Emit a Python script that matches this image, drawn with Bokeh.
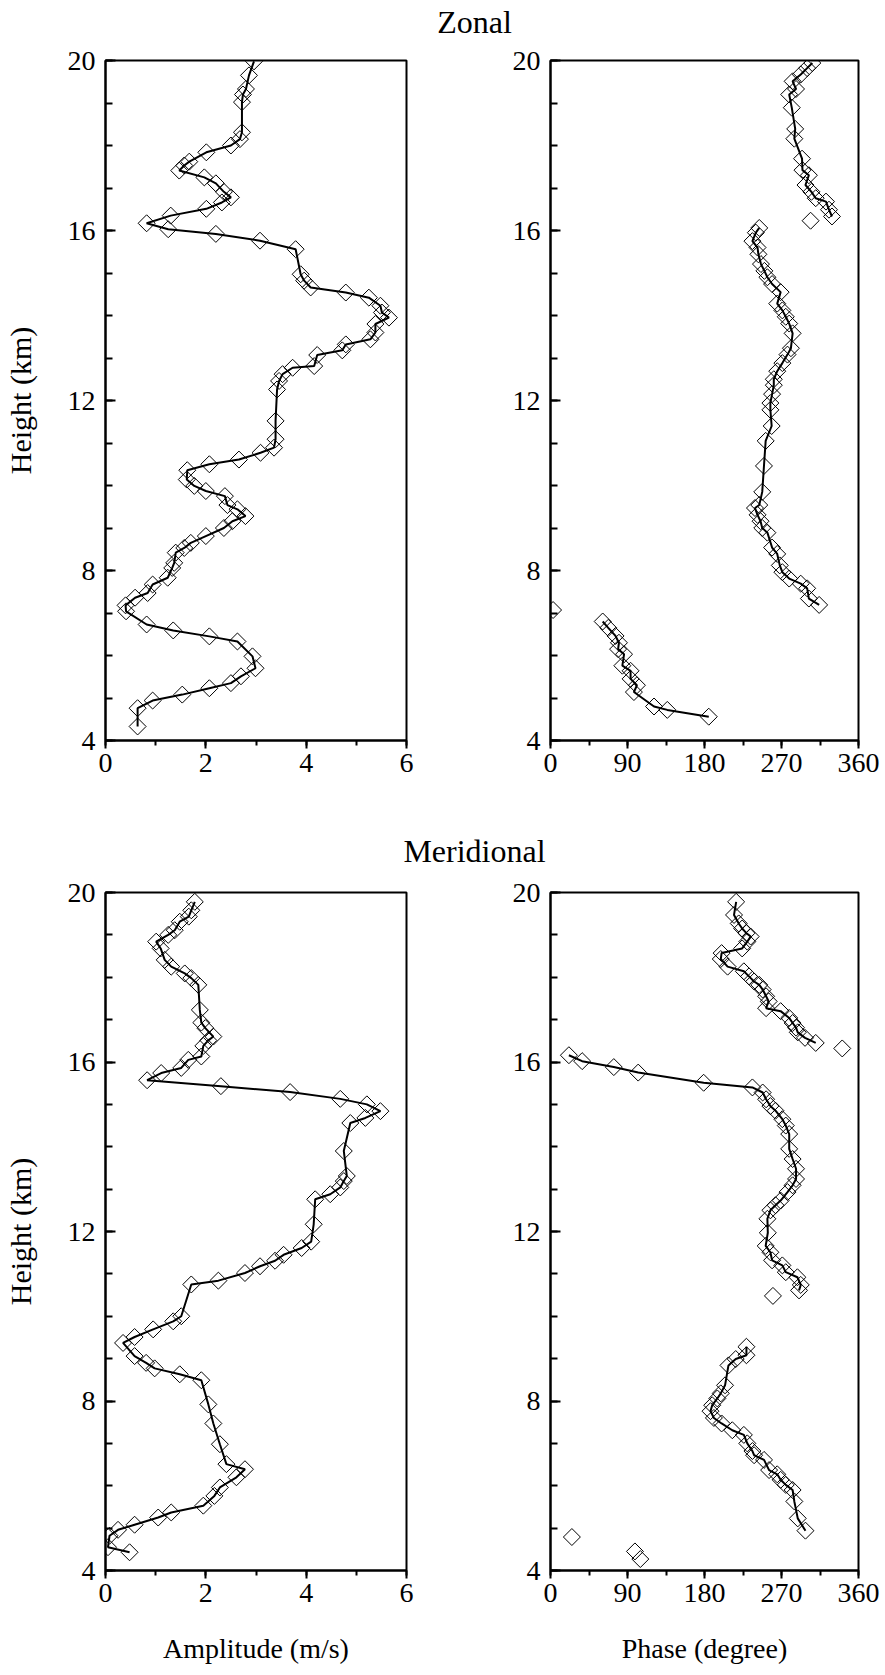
import numpy as np
from bokeh.plotting import figure
from bokeh.layouts import column, row
from bokeh.models import FixedTicker, Range1d, Label
from bokeh.embed import file_html
from bokeh.resources import INLINE

FONT = "Liberation Serif"

# ---------------- data ----------------
height_ticks = [4, 8, 12, 16, 20]
height_minor = list(range(4, 21))
amp_ticks = [0, 2, 4, 6]
amp_minor = [0, 1, 2, 3, 4, 5, 6]
phase_ticks = [0, 90, 180, 270, 360]
phase_minor = [0, 45, 90, 135, 180, 225, 270, 315, 360]

# Zonal amplitude (m/s) vs height (km)
zonal_amp_h = [19.98, 19.65, 19.33, 19.20, 19.02, 18.31, 18.15, 18.00, 17.84, 17.62,
               17.53, 17.41, 17.25, 17.11, 16.91, 16.78, 16.66, 16.51, 16.35, 16.17,
               16.03, 15.92, 15.76, 15.56, 14.97, 14.82, 14.66, 14.54, 14.42, 14.23,
               14.07, 13.95, 13.80, 13.60, 13.44, 13.32, 13.18, 13.07, 12.81, 12.77,
               12.62, 12.46, 12.26, 11.52, 11.09, 10.89, 10.77, 10.61, 10.50, 10.36,
               10.14, 9.99, 9.87, 9.75, 9.54, 9.44, 9.28, 9.16, 9.00, 8.81,
               8.65, 8.53, 8.42, 8.18, 8.06, 7.83, 7.67, 7.47, 7.36, 7.18,
               7.04, 6.73, 6.59, 6.45, 6.33, 5.98, 5.70, 5.51, 5.35, 5.23,
               5.08, 4.94, 4.76, 4.33]
zonal_amp = [2.96, 2.86, 2.80, 2.74, 2.72, 2.72, 2.68, 2.50, 2.01, 1.67,
             1.57, 1.47, 1.97, 2.20, 2.36, 2.50, 2.32, 2.01, 1.30, 0.82,
             1.25, 2.20, 3.08, 3.79, 3.89, 3.96, 4.09, 4.79, 5.25, 5.48,
             5.51, 5.65, 5.38, 5.38, 5.28, 4.79, 4.72, 4.22, 4.16, 3.73,
             3.53, 3.46, 3.42, 3.39, 3.39, 3.36, 3.09, 2.66, 2.07, 1.63,
             1.62, 1.77, 2.00, 2.38, 2.43, 2.63, 2.79, 2.53, 2.36, 2.00,
             1.70, 1.57, 1.40, 1.37, 1.33, 1.24, 0.94, 0.84, 0.59, 0.40,
             0.41, 0.82, 1.35, 2.07, 2.63, 2.93, 2.99, 2.70, 2.50, 2.07,
             1.53, 0.94, 0.64, 0.64]

# Zonal phase (degree): connected segments and isolated points
zonal_ph_h_top = [19.94, 19.82, 19.67, 19.51, 19.33, 19.20, 18.89, 18.39, 18.16, 17.69,
                  17.42, 17.30, 17.07, 16.91, 16.76, 16.68, 16.49, 16.33]
zonal_ph_top = [306, 300, 292.5, 283, 287, 279, 282, 286, 285, 294,
                294.5, 302, 298, 305, 310, 322, 325.5, 329]
zonal_ph_h_mid = [16.06, 15.95, 15.75, 15.60, 15.44, 15.21, 15.05, 14.90, 14.74, 14.55,
                  14.28, 14.12, 13.97, 13.81, 13.58, 13.23, 13.08, 12.88, 12.69, 12.50,
                  12.36, 12.15, 11.94, 11.78, 11.40, 11.05, 10.46, 9.85, 9.54, 9.47,
                  9.31, 9.16, 9.00, 8.89, 8.54, 8.39, 8.12, 7.96, 7.81, 7.69,
                  7.58, 7.34, 7.19]
zonal_ph_mid = [244, 240, 236, 242, 243, 246, 250, 253.5, 259, 269,
                265, 271, 275, 279, 283, 281, 277, 271, 265, 261,
                261, 259, 257, 257, 258.5, 251.5, 249.5, 247.5, 244, 239,
                242, 245.5, 247.5, 253.5, 259, 265, 268, 271, 279, 292.5,
                300, 302, 314]
zonal_ph_h_low = [6.80, 6.65, 6.46, 6.30, 6.15, 6.03, 5.76, 5.64, 5.45, 5.30,
                  5.14, 4.80, 4.72, 4.56]
zonal_ph_low = [61, 67.5, 76, 80, 79, 86, 84, 93.6, 93.6, 101,
                97.5, 121, 136.5, 185]
zonal_ph_h_iso = [16.23, 7.07]
zonal_ph_iso = [304, 3]

# Meridional amplitude (m/s)
merid_amp_h = [19.78, 19.58, 19.43, 19.31, 19.11, 19.00, 18.84, 18.68, 18.41, 18.25,
               18.09, 17.98, 17.82, 17.23, 16.93, 16.80, 16.60, 16.51, 16.38, 16.13,
               16.05, 15.86, 15.74, 15.57, 15.43, 15.29, 15.13, 15.00, 14.84, 14.68,
               14.56, 13.90, 13.31, 13.19, 13.04, 12.88, 12.76, 12.17, 11.76, 11.61,
               11.45, 11.31, 11.18, 11.02, 10.84, 10.75, 10.00, 9.88, 9.69, 9.51,
               9.37, 9.06, 8.90, 8.77, 8.63, 8.49, 7.92, 7.47, 6.98, 6.51,
               6.39, 6.20, 5.96, 5.76, 5.53, 5.37, 5.25, 5.08, 4.96, 4.82,
               4.55, 4.43]
merid_amp = [1.78, 1.71, 1.66, 1.48, 1.38, 1.25, 1.01, 1.10, 1.18, 1.31,
             1.58, 1.71, 1.85, 1.88, 1.91, 1.99, 2.15, 2.05, 1.95, 1.91,
             1.65, 1.51, 1.11, 0.83, 2.30, 3.68, 4.68, 5.21, 5.48, 5.18,
             4.88, 4.75, 4.81, 4.75, 4.68, 4.48, 4.18, 4.15, 4.10, 3.91,
             3.55, 3.38, 3.08, 2.78, 2.25, 1.71, 1.51, 1.35, 0.95, 0.58,
             0.35, 0.58, 0.81, 0.98, 1.48, 1.91, 2.05, 2.15, 2.28, 2.41,
             2.78, 2.61, 2.28, 2.17, 1.95, 1.31, 1.05, 0.58, 0.25, 0.08,
             0.05, 0.48]

# Meridional phase (degree)
merid_ph_h_top = [19.78, 19.47, 19.27, 19.15, 19.04, 18.96, 18.84, 18.68, 18.57, 18.43,
                  18.25, 18.14, 18.02, 17.90, 17.82, 17.71, 17.55, 17.43, 17.27, 17.20,
                  17.04, 16.92, 16.81, 16.70, 16.57, 16.45]
merid_ph_top = [217, 214.5, 220, 224, 229, 234, 230, 224, 200, 199,
                207, 226, 232, 238, 244, 248, 252, 255, 252, 269,
                279, 283, 287, 289, 297.5, 310]
merid_ph_h_mid = [16.16, 16.02, 15.88, 15.75, 15.51, 15.40, 15.28, 15.12, 14.96, 14.85,
                  14.65, 14.50, 14.30, 13.95, 13.71, 13.48, 13.24, 13.09, 12.93, 12.73,
                  12.62, 12.50, 12.30, 11.97, 11.66, 11.51, 11.32, 11.20, 11.04, 10.92,
                  10.74, 10.61]
merid_ph_mid = [21.5, 37, 74, 102.5, 179, 236, 248, 252, 257, 263,
                271, 275, 279, 279, 283, 287, 287, 283, 277, 269,
                263, 257, 253.5, 254, 251.5, 257, 259, 271, 275, 288.6,
                292.5, 290.5]
merid_ph_h_low = [9.28, 9.08, 8.99, 8.84, 8.37, 8.18, 8.06, 7.90, 7.76, 7.60,
                  7.47, 7.31, 7.20, 7.00, 6.82, 6.72, 6.61, 6.37, 6.27, 6.14,
                  6.02, 5.90, 5.63, 5.23, 4.94]
merid_ph_low = [229, 229, 216.5, 208, 204, 199, 195, 189, 187, 191,
                200, 212.5, 226, 230, 236, 238, 249.6, 255.5, 265, 269,
                275, 283, 285, 289, 298]
merid_ph_h_iso = [16.32, 10.48, 4.79, 4.45, 4.27]
merid_ph_iso = [341, 260, 25, 98.7, 105]


# ---------------- helpers ----------------
def make_panel(x_end, xt, xm, fw, fh, left, right, top, bottom, xlabel=None, ylabel=None):
    p = figure(frame_width=fw, frame_height=fh,
               x_range=Range1d(0, x_end), y_range=Range1d(4, 20),
               toolbar_location=None, output_backend="svg",
               min_border_left=left, min_border_right=right,
               min_border_top=top, min_border_bottom=bottom)
    p.grid.visible = False
    p.outline_line_color = "black"
    p.outline_line_width = 2
    p.outline_line_alpha = 1.0
    xa = p.xaxis[0]
    ya = p.yaxis[0]
    xa.ticker = FixedTicker(ticks=xt, minor_ticks=xm)
    ya.ticker = FixedTicker(ticks=height_ticks, minor_ticks=height_minor)
    for ax in (xa, ya):
        ax.axis_line_width = 2
        ax.axis_line_color = "black"
        ax.major_tick_line_width = 2
        ax.minor_tick_line_width = 2
        ax.major_tick_line_color = "black"
        ax.minor_tick_line_color = "black"
        ax.major_label_text_font = FONT
        ax.major_label_text_font_size = "28px"
        ax.major_label_text_color = "black"
        ax.axis_label_text_font = FONT
        ax.axis_label_text_font_style = "normal"
        ax.axis_label_text_color = "black"
    xa.major_tick_in = 0
    xa.major_tick_out = 8
    xa.minor_tick_in = 0
    xa.minor_tick_out = 5
    ya.major_tick_in = 10
    ya.major_tick_out = 0
    ya.minor_tick_in = 7
    ya.minor_tick_out = 0
    xa.major_label_standoff = 5
    ya.major_label_standoff = 10
    if xlabel:
        xa.axis_label = xlabel
        xa.axis_label_text_font_size = "28px"
        xa.axis_label_standoff = 28
    if ylabel:
        ya.axis_label = ylabel
        ya.axis_label_text_font_size = "30px"
        ya.axis_label_standoff = 28
    return p


def add_points(p, x, y):
    p.scatter(x, y, marker="square", size=12, angle=np.pi / 4,
              fill_alpha=0, line_color="black", line_width=1)


def add_line(p, x, y):
    p.line(x, y, line_color="black", line_width=2)


def title_fig(text, h, y):
    t = figure(frame_width=885, frame_height=h, x_range=Range1d(0, 885), y_range=Range1d(0, h),
               toolbar_location=None, output_backend="svg", min_border=0,
               x_axis_type=None, y_axis_type=None)
    t.grid.visible = False
    t.outline_line_color = None
    t.add_layout(Label(x=474, y=y, text=text, text_align="center", text_baseline="middle",
                       text_font=FONT, text_font_size="32px", text_color="black"))
    return t


# ---------------- panels ----------------
# Zonal amplitude
pa = make_panel(6, amp_ticks, amp_minor, 301, 680, 103, 36, 20, 78, ylabel="Height (km)")
add_points(pa, zonal_amp, zonal_amp_h)
add_line(pa, zonal_amp, zonal_amp_h)

# Zonal phase
pb = make_panel(360, phase_ticks, phase_minor, 308, 680, 108, 29, 20, 78)
add_points(pb, zonal_ph_top + zonal_ph_mid + zonal_ph_low + zonal_ph_iso,
           zonal_ph_h_top + zonal_ph_h_mid + zonal_ph_h_low + zonal_ph_h_iso)
add_line(pb, zonal_ph_top, zonal_ph_h_top)
add_line(pb, zonal_ph_mid, zonal_ph_h_mid)
add_line(pb, zonal_ph_low, zonal_ph_h_low)

# Meridional amplitude
pc = make_panel(6, amp_ticks, amp_minor, 301, 678, 103, 36, 24, 105,
                xlabel="Amplitude (m/s)", ylabel="Height (km)")
add_points(pc, merid_amp, merid_amp_h)
add_line(pc, merid_amp, merid_amp_h)

# Meridional phase
pd = make_panel(360, phase_ticks, phase_minor, 308, 678, 108, 29, 24, 105,
                xlabel="Phase (degree)")
add_points(pd, merid_ph_top + merid_ph_mid + merid_ph_low + merid_ph_iso,
           merid_ph_h_top + merid_ph_h_mid + merid_ph_h_low + merid_ph_h_iso)
add_line(pd, merid_ph_top, merid_ph_h_top)
add_line(pd, merid_ph_mid, merid_ph_h_mid)
add_line(pd, merid_ph_low, merid_ph_h_low)

t1 = title_fig("Zonal", 40, 19)
t2 = title_fig("Meridional", 50, 18)

layout = column(t1, row(pa, pb), t2, row(pc, pd))

open("out.html", "w").write(file_html(layout, INLINE))
